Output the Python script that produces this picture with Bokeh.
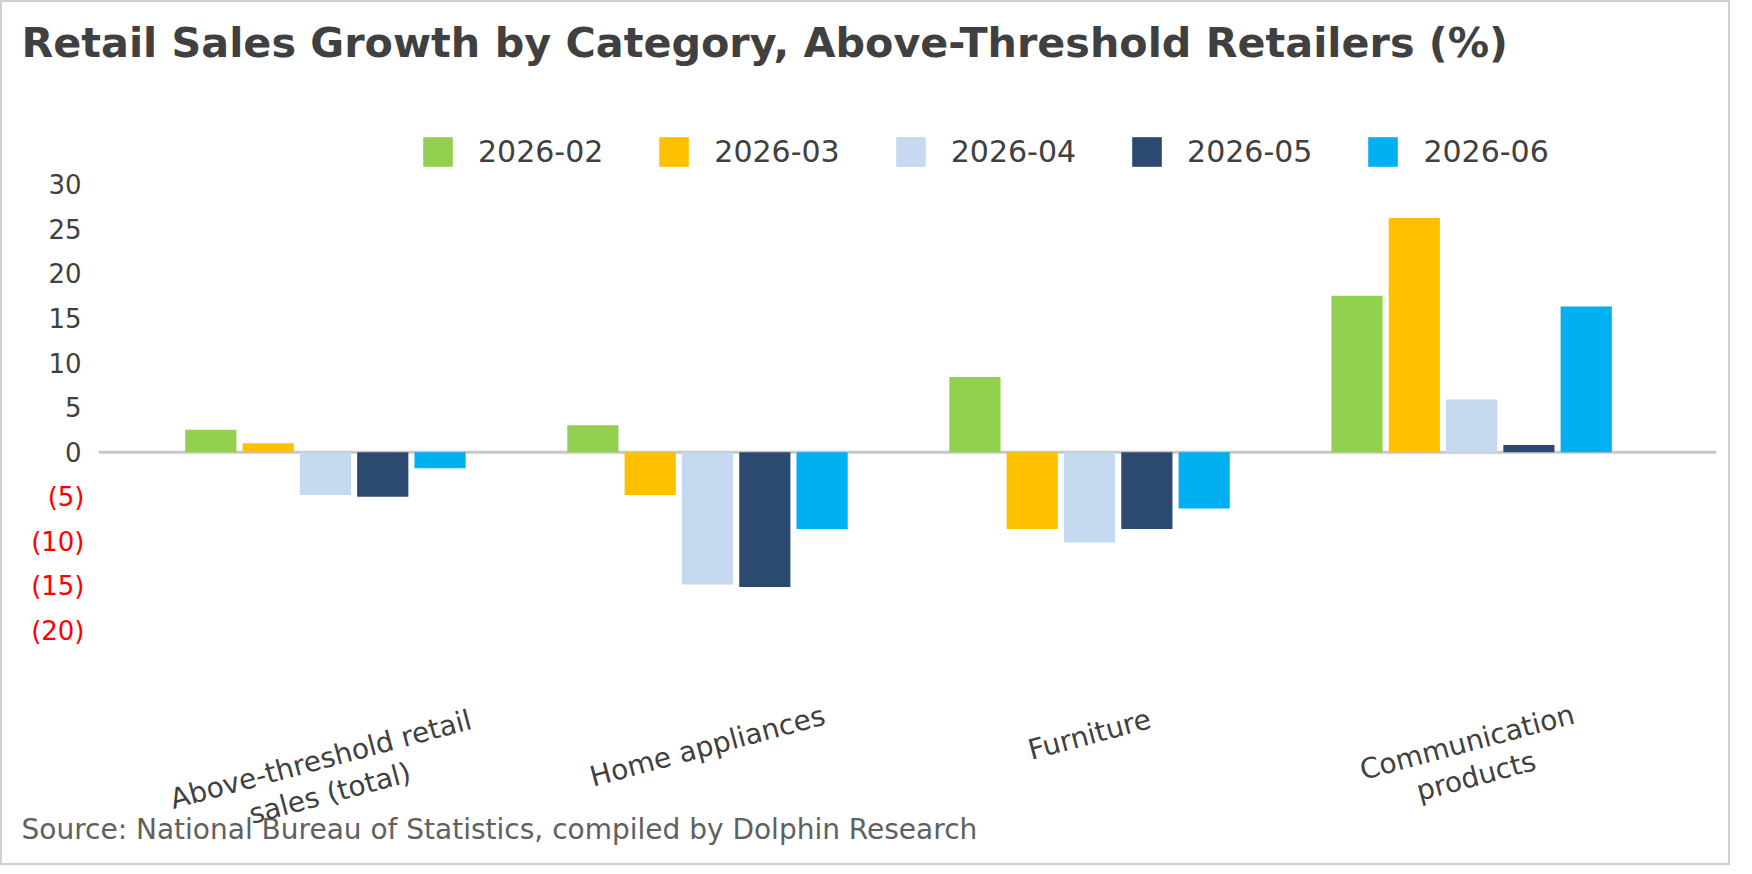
import math

from bokeh.core.properties import value
from bokeh.embed import file_html
from bokeh.models import (ColumnDataSource, FixedTicker, LabelSet, Legend,
                          LegendItem, LinearAxis, Range1d, Span, Title)
from bokeh.plotting import figure
from bokeh.resources import INLINE
from bokeh.transform import dodge

# data (YoY growth, %)
categories = ["Above-threshold retail\nsales (total)", "Home appliances",
              "Furniture", "Communication\nproducts"]
months = ["2026-02", "2026-03", "2026-04", "2026-05", "2026-06"]
m_2026_02 = [2.5, 3.0, 8.4, 17.5]
m_2026_03 = [1.0, -4.8, -8.6, 26.2]
m_2026_04 = [-4.8, -14.8, -10.1, 5.9]
m_2026_05 = [-5.0, -15.1, -8.6, 0.8]
m_2026_06 = [-1.8, -8.6, -6.3, 16.3]
colors = ["#92D050", "#FFC000", "#C5D9F1", "#2C4A70", "#00B0F0"]

pos_ticks = [0, 5, 10, 15, 20, 25, 30]
neg_ticks = [-20, -15, -10, -5]

FONT = "DejaVu Sans"
PX_PER_UNIT = 8.95          # vertical scale of the frame
ROT = math.radians(15)
LH = 35                     # line spacing of the category labels, px

series = [m_2026_02, m_2026_03, m_2026_04, m_2026_05, m_2026_06]
idx = list(range(len(categories)))
src = ColumnDataSource(dict(x=idx, **{m: v for m, v in zip(months, series)}))

p = figure(width=1730, height=865, output_backend="svg", toolbar_location=None,
           x_range=Range1d(-0.594, 3.641), y_range=Range1d(-43.13, 41.6),
           min_border_left=96, min_border_right=16, min_border_top=0,
           min_border_bottom=30)
p.styles = {"border": "2px solid #d0d0d0"}
p.outline_line_color = None
p.grid.visible = False
p.background_fill_color = "white"
p.border_fill_color = "white"

p.title.text = "Retail Sales Growth by Category, Above-Threshold Retailers (%)"
p.title.text_font = FONT
p.title.text_font_size = "41.3px"
p.title.text_font_style = "bold"
p.title.text_color = "#404040"
p.title.align = "left"
p.title.offset = -77
p.title.standoff = 28

zero = Span(location=0, dimension="width", line_color="#c8c8c8", line_width=3,
            level="underlay")
p.add_layout(zero)

step = 0.15
items = []
for i, m in enumerate(months):
    r = p.vbar(x=dodge("x", (i - 2) * step, range=p.x_range), top=m, bottom=0,
               width=0.134, source=src, fill_color=colors[i], line_color=None)
    items.append(LegendItem(label=m, renderers=[r]))

legend = Legend(items=items, orientation="horizontal", location=(321, 667),
                glyph_width=37, glyph_height=37, label_standoff=22, spacing=52,
                padding=0, margin=0, border_line_color=None,
                background_fill_alpha=0, label_text_font=FONT,
                label_text_font_size="30px", label_text_color="#404040")
p.add_layout(legend)

# y axis: non-negative labels
ya = p.yaxis[0]
ya.ticker = FixedTicker(ticks=pos_ticks)
ya.axis_line_color = None
ya.major_tick_in = 0
ya.major_tick_out = 0
ya.minor_tick_line_color = None
ya.major_label_standoff = 17
ya.major_label_text_font = FONT
ya.major_label_text_font_size = "26px"
ya.major_label_text_color = "#404040"

# y axis: negative labels in red, shown as (n)
yneg = LinearAxis(ticker=FixedTicker(ticks=neg_ticks),
                  major_label_overrides={t: "(%d)" % abs(t) for t in neg_ticks},
                  axis_line_color=None, major_tick_in=0, major_tick_out=0,
                  minor_tick_line_color=None, major_label_standoff=-39,
                  major_label_text_font=FONT, major_label_text_font_size="26px",
                  major_label_text_color="#FF0000")
p.add_layout(yneg, "left")

p.xaxis.visible = False


# category labels: rotated, centred under each group, tops of rotated boxes aligned
def half_rot_height(text, size=28):
    lines = text.split("\n")
    w = max(len(s) for s in lines) * 0.53 * size
    h = len(lines) * LH
    return (w * math.sin(ROT) + h * math.cos(ROT)) / 2


label_top = -27.8
lab = dict(x=[], y=[], text=[], dx=[], dy=[])
for i, c in zip(idx, categories):
    lines = c.split("\n")
    yc = label_top - half_rot_height(c) / PX_PER_UNIT
    for k, line in enumerate(lines):
        off = (k - (len(lines) - 1) / 2) * LH
        lab["x"].append(i)
        lab["y"].append(yc)
        lab["text"].append(line)
        lab["dx"].append(off * math.sin(ROT))
        lab["dy"].append(-off * math.cos(ROT))

p.add_layout(LabelSet(x="x", y="y", text="text", x_offset="dx", y_offset="dy",
                      source=ColumnDataSource(lab), angle=ROT,
                      text_align="center", text_baseline="middle",
                      text_font=value(FONT), text_font_size="28px",
                      text_color="#404040"))

source_note = Title(text="Source: National Bureau of Statistics, compiled by Dolphin Research",
                    align="left", vertical_align="top", offset=-77,
                    text_font=FONT, text_font_size="28px", text_font_style="normal",
                    text_color="#606060", standoff=-50)
p.add_layout(source_note, "below")

open("out.html", "w").write(file_html(p, INLINE))
